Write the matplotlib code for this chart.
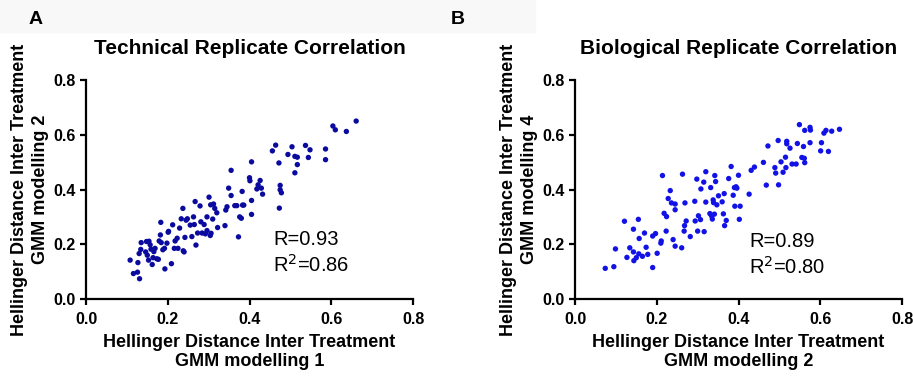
import numpy as np
import matplotlib
matplotlib.use('Agg')
import matplotlib.pyplot as plt
from matplotlib.patches import Rectangle

plt.rcParams['font.family'] = ['Liberation Sans', 'DejaVu Sans']

# panel A: technical replicates (GMM modelling 1 vs 2)
tech_x = [0.108, 0.116, 0.126, 0.131, 0.127, 0.130, 0.134, 0.135, 0.146, 0.148,
          0.154, 0.157, 0.159, 0.150, 0.153, 0.162, 0.164, 0.166, 0.169, 0.173,
          0.177, 0.179, 0.182, 0.183, 0.184, 0.188, 0.192, 0.193, 0.198, 0.201,
          0.202, 0.209, 0.212, 0.216, 0.218, 0.223, 0.225, 0.229, 0.233, 0.237,
          0.240, 0.238, 0.242, 0.245, 0.248, 0.255, 0.259, 0.263, 0.265, 0.267,
          0.269, 0.273, 0.279, 0.281, 0.284, 0.289, 0.292, 0.296, 0.296, 0.301,
          0.304, 0.305, 0.306, 0.310, 0.312, 0.315, 0.320, 0.322, 0.340, 0.342,
          0.345, 0.349, 0.355, 0.355, 0.364, 0.369, 0.373, 0.376, 0.380, 0.382,
          0.383, 0.386, 0.400, 0.401, 0.405, 0.405, 0.405, 0.418, 0.421, 0.426,
          0.429, 0.432, 0.456, 0.464, 0.472, 0.475, 0.475, 0.478, 0.473, 0.494,
          0.504, 0.511, 0.511, 0.517, 0.517, 0.537, 0.544, 0.548, 0.586, 0.586,
          0.604, 0.610, 0.637, 0.661]
tech_y = [0.142, 0.093, 0.098, 0.074, 0.133, 0.166, 0.181, 0.206, 0.172, 0.210,
          0.211, 0.198, 0.182, 0.160, 0.142, 0.126, 0.151, 0.173, 0.185, 0.147,
          0.145, 0.212, 0.234, 0.280, 0.206, 0.180, 0.185, 0.110, 0.204, 0.244,
          0.247, 0.129, 0.271, 0.185, 0.212, 0.222, 0.185, 0.259, 0.293, 0.331,
          0.172, 0.176, 0.225, 0.288, 0.293, 0.270, 0.228, 0.300, 0.272, 0.356,
          0.197, 0.241, 0.340, 0.282, 0.241, 0.272, 0.238, 0.250, 0.300, 0.372,
          0.232, 0.344, 0.240, 0.292, 0.347, 0.331, 0.315, 0.261, 0.268, 0.325,
          0.337, 0.405, 0.378, 0.470, 0.341, 0.341, 0.227, 0.300, 0.295, 0.393,
          0.343, 0.343, 0.443, 0.432, 0.501, 0.360, 0.309, 0.402, 0.417, 0.433,
          0.405, 0.383, 0.541, 0.562, 0.497, 0.415, 0.399, 0.388, 0.332, 0.528,
          0.556, 0.461, 0.521, 0.518, 0.491, 0.561, 0.517, 0.545, 0.548, 0.509,
          0.632, 0.618, 0.612, 0.650]

# panel B: biological replicates (GMM modelling 2 vs 4)
bio_x = [0.074, 0.095, 0.099, 0.121, 0.127, 0.134, 0.143, 0.143, 0.144, 0.150,
         0.155, 0.157, 0.156, 0.165, 0.170, 0.174, 0.178, 0.190, 0.190, 0.197,
         0.201, 0.210, 0.211, 0.214, 0.218, 0.223, 0.224, 0.228, 0.233, 0.236,
         0.240, 0.245, 0.245, 0.245, 0.261, 0.263, 0.267, 0.268, 0.269, 0.272,
         0.282, 0.293, 0.294, 0.298, 0.300, 0.302, 0.307, 0.308, 0.315, 0.316,
         0.320, 0.320, 0.330, 0.332, 0.334, 0.336, 0.338, 0.339, 0.341, 0.342,
         0.344, 0.347, 0.351, 0.360, 0.363, 0.365, 0.366, 0.370, 0.376, 0.382,
         0.387, 0.390, 0.391, 0.394, 0.396, 0.400, 0.402, 0.404, 0.426, 0.431,
         0.439, 0.461, 0.468, 0.472, 0.489, 0.491, 0.497, 0.498, 0.504, 0.509,
         0.515, 0.516, 0.518, 0.518, 0.526, 0.531, 0.541, 0.544, 0.549, 0.555,
         0.559, 0.561, 0.562, 0.562, 0.575, 0.576, 0.575, 0.601, 0.603, 0.609,
         0.614, 0.620, 0.628, 0.647]
bio_y = [0.112, 0.118, 0.183, 0.284, 0.152, 0.187, 0.255, 0.172, 0.140, 0.151,
         0.291, 0.221, 0.165, 0.156, 0.241, 0.189, 0.163, 0.230, 0.115, 0.239,
         0.167, 0.204, 0.212, 0.451, 0.313, 0.248, 0.301, 0.367, 0.396, 0.351,
         0.217, 0.347, 0.193, 0.326, 0.187, 0.456, 0.248, 0.268, 0.351, 0.285,
         0.228, 0.357, 0.285, 0.438, 0.248, 0.304, 0.290, 0.402, 0.427, 0.246,
         0.465, 0.354, 0.312, 0.407, 0.304, 0.292, 0.362, 0.352, 0.310, 0.451,
         0.429, 0.344, 0.377, 0.355, 0.311, 0.385, 0.268, 0.287, 0.440, 0.484,
         0.379, 0.407, 0.339, 0.410, 0.405, 0.452, 0.291, 0.339, 0.383, 0.470,
         0.482, 0.499, 0.416, 0.559, 0.480, 0.460, 0.579, 0.417, 0.501, 0.463,
         0.518, 0.480, 0.576, 0.567, 0.551, 0.493, 0.493, 0.568, 0.637, 0.517,
         0.557, 0.514, 0.616, 0.498, 0.627, 0.617, 0.571, 0.541, 0.571, 0.606,
         0.616, 0.539, 0.613, 0.620]

ticks = [0.0, 0.2, 0.4, 0.6, 0.8]

panels = [
    ('A', 'Technical Replicate Correlation', tech_x, tech_y, '#0a0a9e',
     'GMM modelling 1', 'GMM modelling 2', 'R=0.93', 'R$^{2}$=0.86'),
    ('B', 'Biological Replicate Correlation', bio_x, bio_y, '#1212e6',
     'GMM modelling 2', 'GMM modelling 4', 'R=0.89', 'R$^{2}$=0.80'),
]
lefts = [86 / 913, 575 / 913]
letter_x = [29 / 913, 451 / 913]
r_pos = [(0.573, 0.245, 0.126), (0.532, 0.237, 0.114)]

fig = plt.figure(figsize=(9.13, 3.77), dpi=100)
fig.patches.append(Rectangle((0, 1 - 32 / 377), 535 / 913, 32 / 377,
                             transform=fig.transFigure, color='#f8f8f8',
                             zorder=-1))

for i, (letter, title, xs, ys, col, xl, yl, rtxt, r2txt) in enumerate(panels):
    ax = fig.add_axes([lefts[i], 78 / 377, 327 / 913, 219 / 377])
    ax.scatter(xs, ys, s=15, color=col, edgecolors='none', zorder=3)
    ax.set_xlim(0, 0.8)
    ax.set_ylim(0, 0.8)
    ax.set_xticks(ticks)
    ax.set_yticks(ticks)
    ax.set_xticklabels([f'{t:.1f}' for t in ticks])
    ax.set_yticklabels([f'{t:.1f}' for t in ticks])
    for s in ['top', 'right']:
        ax.spines[s].set_visible(False)
    for s in ['left', 'bottom']:
        ax.spines[s].set_linewidth(1.6)
    ax.tick_params(width=1.6, length=4.5, labelsize=11.5, pad=3)
    ax.tick_params(axis='x', pad=5)
    for lab in ax.get_xticklabels() + ax.get_yticklabels():
        lab.set_fontweight('bold')
    ax.set_title(title, fontsize=15, fontweight='bold', pad=19)
    ax.set_xlabel('Hellinger Distance Inter Treatment\n' + xl,
                  fontsize=13, fontweight='bold', linespacing=1.15, labelpad=5)
    ax.set_ylabel('Hellinger Distance Inter Treatment\n' + yl,
                  fontsize=13, fontweight='bold', linespacing=1.3, labelpad=3)
    rx, ry1, ry2 = r_pos[i]
    ax.text(rx, ry1, rtxt, transform=ax.transAxes, fontsize=14.5,
            va='baseline')
    ax.text(rx, ry2, r2txt, transform=ax.transAxes, fontsize=14.5,
            va='baseline')
    fig.text(letter_x[i], 1 - 19 / 377, letter, fontsize=14, fontweight='bold',
             va='center')

fig.savefig('out.png', dpi=100)
